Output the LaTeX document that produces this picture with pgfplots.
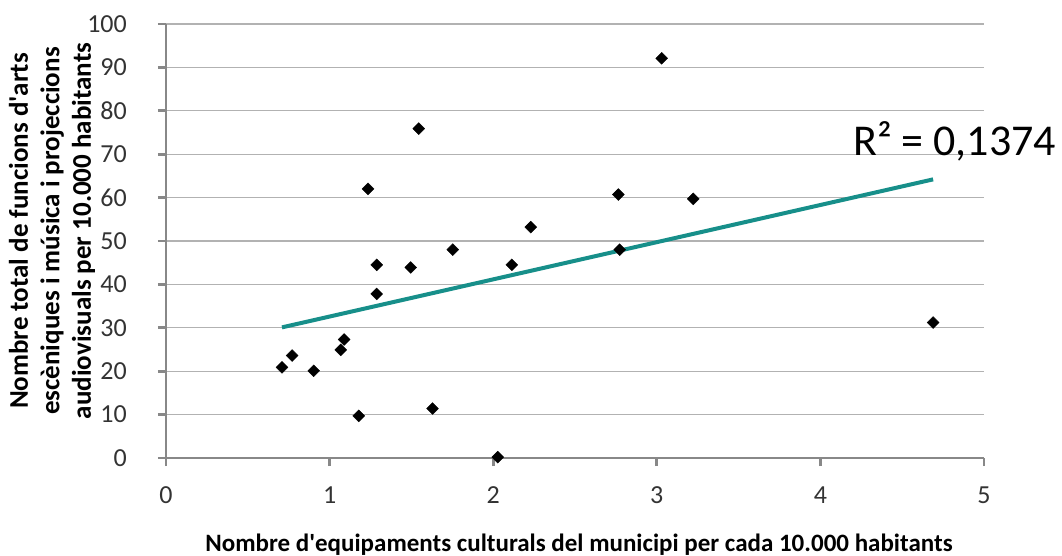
\documentclass[border=0pt]{standalone}
\usepackage{fontspec}
\setmainfont{Carlito}
\usepackage{pgfplots}
\pgfplotsset{compat=1.18}

\definecolor{axisgray}{RGB}{136,136,136}
\definecolor{gridgray}{RGB}{178,178,178}
\definecolor{trend}{RGB}{23,143,138}

% equipaments per 10.000 hab. / funcions per 10.000 hab.
\pgfplotstableread{
x      y
1.235  62.0
1.545  75.9
2.765  60.7
2.230  53.2
1.753  48.0
2.773  48.0
1.288  44.5
1.496  43.9
2.114  44.5
1.288  37.8
1.089  27.3
1.068  24.9
0.771  23.6
0.709  20.9
0.903  20.1
1.178   9.7
1.629  11.4
2.028   0.2
3.030  92.1
3.223  59.7
4.689  31.2
}\municipis

\begin{document}
\begin{tikzpicture}
\useasboundingbox (-166bp,-98bp) rectangle (896bp,458bp);
\begin{axis}[
    scale only axis,
    width=818bp, height=434bp,
    xmin=0, xmax=5, ymin=0, ymax=100,
    xtick={0,1,...,5},
    ytick={0,10,...,100},
    axis lines=left,
    axis line style={-, draw=axisgray, line width=2.7bp},
    tick align=outside,
    major tick length=8bp,
    tick style={draw=axisgray, line width=2.7bp},
    ymajorgrids,
    grid style={draw=gridgray, line width=1.3bp},
    /pgf/number format/assume math mode=true,
    ticklabel style={font=\fontsize{26bp}{30bp}\selectfont, text=black!80, inner sep=0pt},
    xticklabel style={yshift=-20.7bp},
    yticklabel style={xshift=-31bp},
    clip=false,
  ]
  \addplot[only marks, mark=square*, mark size=4.2bp,
    mark options={rotate=45, fill=black, draw=black}]
    table[x=x, y=y] {\municipis};
  \addplot[trend, line width=4bp] coordinates {(0.709,30.1) (4.689,64.2)};
\end{axis}
\node[rotate=90, align=center, font=\bfseries\fontsize{27bp}{31.5bp}\selectfont]
  at (-114bp,227bp) {Nombre total de funcions d\textquotesingle arts\\escèniques i música i projeccions\\audiovisuals per 10.000 habitants};
\node[anchor=base, font=\bfseries\fontsize{25bp}{30bp}\selectfont]
  at (413bp,-93.7bp) {Nombre d\textquotesingle equipaments culturals del municipi per cada 10.000 habitants};
\node[anchor=base west, inner sep=0pt, font=\fontsize{44bp}{52bp}\selectfont]
  at (687bp,302bp) {R² = 0,1374};
\end{tikzpicture}
\end{document}
